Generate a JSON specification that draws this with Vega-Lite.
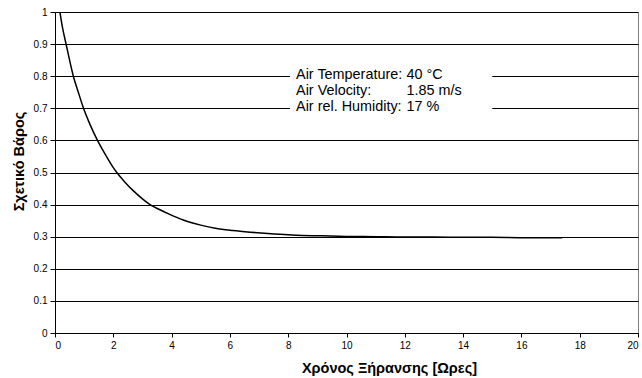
{
  "$schema": "https://vega.github.io/schema/vega-lite/v6.json",
  "width": 583,
  "height": 321,
  "autosize": {"type": "none"},
  "padding": {"left": 55, "top": 12, "right": 4, "bottom": 45},
  "background": "white",
  "config": {
    "font": "Liberation Sans",
    "view": {"stroke": "#808080", "strokeWidth": 1}
  },
  "datasets": {
    "curve": [
      {"t": 0.17, "w": 1.0},
      {"t": 0.25, "w": 0.955},
      {"t": 0.38, "w": 0.9},
      {"t": 0.5, "w": 0.85},
      {"t": 0.63, "w": 0.8},
      {"t": 0.8, "w": 0.75},
      {"t": 0.96, "w": 0.705},
      {"t": 1.2, "w": 0.65},
      {"t": 1.44, "w": 0.603},
      {"t": 1.7, "w": 0.56},
      {"t": 2.0, "w": 0.515},
      {"t": 2.12, "w": 0.5},
      {"t": 2.4, "w": 0.47},
      {"t": 2.7, "w": 0.442},
      {"t": 3.0, "w": 0.418},
      {"t": 3.26, "w": 0.4},
      {"t": 3.6, "w": 0.384},
      {"t": 3.9, "w": 0.371},
      {"t": 4.4, "w": 0.352},
      {"t": 5.0, "w": 0.336},
      {"t": 5.5, "w": 0.326},
      {"t": 6.1, "w": 0.319},
      {"t": 6.7, "w": 0.314},
      {"t": 7.3, "w": 0.31},
      {"t": 8.0, "w": 0.306},
      {"t": 8.5, "w": 0.304},
      {"t": 9.0, "w": 0.303},
      {"t": 10.0, "w": 0.301},
      {"t": 11.0, "w": 0.3},
      {"t": 12.0, "w": 0.299},
      {"t": 13.0, "w": 0.299},
      {"t": 14.0, "w": 0.298},
      {"t": 15.0, "w": 0.298},
      {"t": 16.0, "w": 0.297},
      {"t": 17.0, "w": 0.297},
      {"t": 17.4, "w": 0.297}
    ],
    "note": [
      {"labels": "Air Temperature:\nAir Velocity:\nAir rel. Humidity:", "values": "40 °C\n1.85 m/s\n17 %"}
    ]
  },
  "layer": [
    {
      "data": {"name": "curve"},
      "mark": {"type": "line", "color": "black", "strokeWidth": 1.5, "interpolate": "monotone"},
      "encoding": {
        "x": {
          "field": "t", "type": "quantitative",
          "scale": {"domain": [0, 20], "nice": false, "zero": false},
          "axis": {
            "values": [0, 2, 4, 6, 8, 10, 12, 14, 16, 18, 20],
            "grid": false,
            "domainColor": "black", "tickColor": "black", "tickSize": 4,
            "labelColor": "black", "labelFontSize": 10, "labelPadding": 3,
            "title": "Χρόνος Ξήρανσης [Ωρες]",
            "titleFontSize": 14.5, "titleFontWeight": "bold", "titleColor": "black",
            "titleX": 334, "titleY": 39.5, "titleBaseline": "alphabetic", "titleAlign": "center"
          }
        },
        "y": {
          "field": "w", "type": "quantitative",
          "scale": {"domain": [0, 1], "nice": false},
          "axis": {
            "values": [0, 0.1, 0.2, 0.3, 0.4, 0.5, 0.6, 0.7, 0.8, 0.9, 1],
            "format": "~g",
            "labelOverlap": false,
            "grid": true, "gridColor": "black", "gridOpacity": 1, "gridWidth": 1,
            "domainColor": "black", "tickColor": "black", "tickSize": 5,
            "labelColor": "black", "labelFontSize": 10, "labelPadding": 3,
            "title": "Σχετικό Βάρος",
            "titleFontSize": 14.5, "titleFontWeight": "bold", "titleColor": "black",
            "titleX": -36, "titleY": 149, "titleBaseline": "middle", "titleAlign": "center", "titleAngle": -90
          }
        }
      }
    },
    {
      "data": {"name": "note"},
      "mark": {"type": "rect", "fill": "white", "stroke": null},
      "encoding": {
        "x": {
          "datum": 8.06, "type": "quantitative",
          "axis": {
            "values": [0, 2, 4, 6, 8, 10, 12, 14, 16, 18, 20],
            "grid": false,
            "domainColor": "black", "tickColor": "black", "tickSize": 4,
            "labelColor": "black", "labelFontSize": 10, "labelPadding": 3,
            "title": "Χρόνος Ξήρανσης [Ωρες]",
            "titleFontSize": 14.5, "titleFontWeight": "bold", "titleColor": "black",
            "titleX": 334, "titleY": 39.5, "titleBaseline": "alphabetic", "titleAlign": "center"
          }
        },
        "x2": {"datum": 15.0},
        "y": {
          "datum": 0.846, "type": "quantitative",
          "axis": {
            "values": [0, 0.1, 0.2, 0.3, 0.4, 0.5, 0.6, 0.7, 0.8, 0.9, 1],
            "format": "~g",
            "labelOverlap": false,
            "grid": true, "gridColor": "black", "gridOpacity": 1, "gridWidth": 1,
            "domainColor": "black", "tickColor": "black", "tickSize": 5,
            "labelColor": "black", "labelFontSize": 10, "labelPadding": 3,
            "title": "Σχετικό Βάρος",
            "titleFontSize": 14.5, "titleFontWeight": "bold", "titleColor": "black",
            "titleX": -36, "titleY": 149, "titleBaseline": "middle", "titleAlign": "center", "titleAngle": -90
          }
        },
        "y2": {"datum": 0.687}
      }
    },
    {
      "data": {"name": "note"},
      "mark": {"type": "text", "align": "left", "baseline": "alphabetic", "fontSize": 14.4, "color": "black", "lineBreak": "\n", "lineHeight": 15.8},
      "encoding": {
        "x": {
          "datum": 8.27, "type": "quantitative",
          "axis": {
            "values": [0, 2, 4, 6, 8, 10, 12, 14, 16, 18, 20],
            "grid": false,
            "domainColor": "black", "tickColor": "black", "tickSize": 4,
            "labelColor": "black", "labelFontSize": 10, "labelPadding": 3,
            "title": "Χρόνος Ξήρανσης [Ωρες]",
            "titleFontSize": 14.5, "titleFontWeight": "bold", "titleColor": "black",
            "titleX": 334, "titleY": 39.5, "titleBaseline": "alphabetic", "titleAlign": "center"
          }
        },
        "y": {
          "datum": 0.79, "type": "quantitative",
          "axis": {
            "values": [0, 0.1, 0.2, 0.3, 0.4, 0.5, 0.6, 0.7, 0.8, 0.9, 1],
            "format": "~g",
            "labelOverlap": false,
            "grid": true, "gridColor": "black", "gridOpacity": 1, "gridWidth": 1,
            "domainColor": "black", "tickColor": "black", "tickSize": 5,
            "labelColor": "black", "labelFontSize": 10, "labelPadding": 3,
            "title": "Σχετικό Βάρος",
            "titleFontSize": 14.5, "titleFontWeight": "bold", "titleColor": "black",
            "titleX": -36, "titleY": 149, "titleBaseline": "middle", "titleAlign": "center", "titleAngle": -90
          }
        },
        "text": {"field": "labels"}
      }
    },
    {
      "data": {"name": "note"},
      "mark": {"type": "text", "align": "left", "baseline": "alphabetic", "fontSize": 14.4, "color": "black", "lineBreak": "\n", "lineHeight": 15.8},
      "encoding": {
        "x": {
          "datum": 12.06, "type": "quantitative",
          "axis": {
            "values": [0, 2, 4, 6, 8, 10, 12, 14, 16, 18, 20],
            "grid": false,
            "domainColor": "black", "tickColor": "black", "tickSize": 4,
            "labelColor": "black", "labelFontSize": 10, "labelPadding": 3,
            "title": "Χρόνος Ξήρανσης [Ωρες]",
            "titleFontSize": 14.5, "titleFontWeight": "bold", "titleColor": "black",
            "titleX": 334, "titleY": 39.5, "titleBaseline": "alphabetic", "titleAlign": "center"
          }
        },
        "y": {
          "datum": 0.79, "type": "quantitative",
          "axis": {
            "values": [0, 0.1, 0.2, 0.3, 0.4, 0.5, 0.6, 0.7, 0.8, 0.9, 1],
            "format": "~g",
            "labelOverlap": false,
            "grid": true, "gridColor": "black", "gridOpacity": 1, "gridWidth": 1,
            "domainColor": "black", "tickColor": "black", "tickSize": 5,
            "labelColor": "black", "labelFontSize": 10, "labelPadding": 3,
            "title": "Σχετικό Βάρος",
            "titleFontSize": 14.5, "titleFontWeight": "bold", "titleColor": "black",
            "titleX": -36, "titleY": 149, "titleBaseline": "middle", "titleAlign": "center", "titleAngle": -90
          }
        },
        "text": {"field": "values"}
      }
    }
  ]
}
